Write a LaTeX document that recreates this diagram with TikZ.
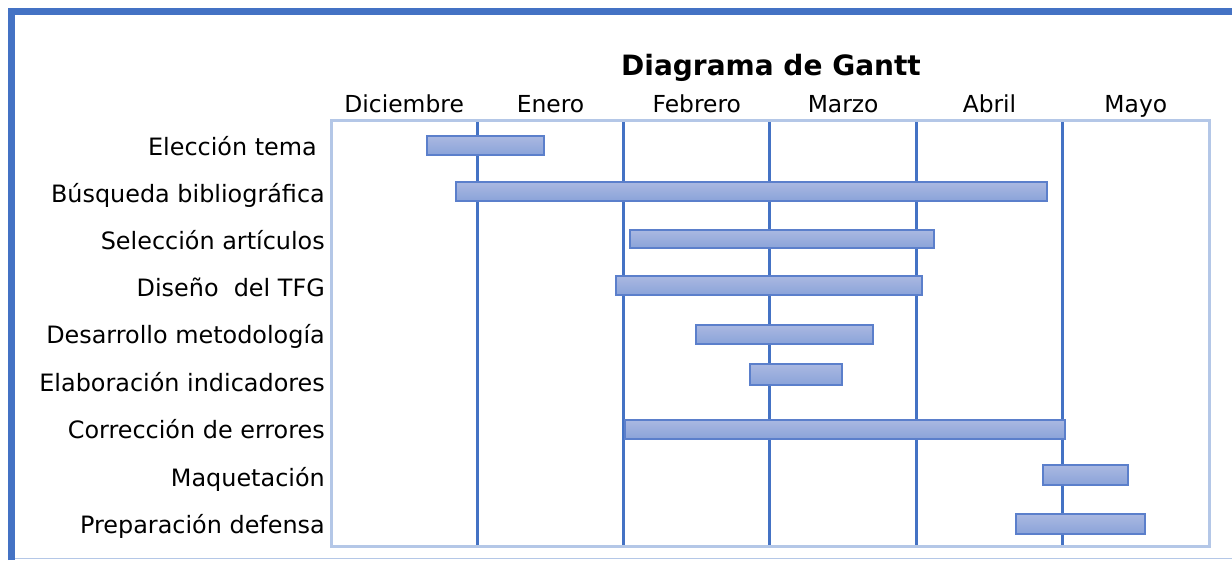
\documentclass[tikz,border=0pt]{standalone}
\usepackage{fontspec}
\setmainfont{DejaVu Sans}
\usepackage{tikz}
\definecolor{frameBlue}{RGB}{68, 114, 196}
\definecolor{boxBlue}{RGB}{180, 199, 231}
\definecolor{barEdge}{RGB}{91, 127, 203}
\definecolor{barTop}{RGB}{170, 184, 225}
\definecolor{barBottom}{RGB}{138, 163, 217}
\usetikzlibrary{positioning}

\begin{document}
\begin{tikzpicture}[
    x=1pt, y=-1pt,
    frame/.style={frameBlue, line width=7pt},
    chartbox/.style={draw=boxBlue, line width=3pt},
    gridline/.style={frameBlue, line width=3pt},
    month/.style={font=\fontsize{23.4}{26}\selectfont, anchor=base, inner sep=0pt},
    task/.style={font=\fontsize{23.9}{26}\selectfont, anchor=base east, inner sep=0pt},
    bar/.style={draw=barEdge, line width=1.2pt, top color=barTop, bottom color=barBottom}
]
    \useasboundingbox (0,0) rectangle (1232,560);
    \draw[frame] (11.5,560) -- (11.5,11.5) -- (1232,11.5);
    \draw[boxBlue, line width=1pt] (15,558.5) -- (1232,558.5);

    \node[font=\fontsize{28}{32}\selectfont\bfseries, anchor=base, inner sep=0pt] (title) at (771,75) {Diagrama de Gantt};

    % months
    \foreach \m [count=\i] in {Diciembre, Enero, Febrero, Marzo, Abril, Mayo}
        \node[month] (m\i) at ({331+146.33*(\i-0.5)},112) {\m};

    % grid
    \foreach \i in {1,...,5}
        \draw[gridline] ({331+146.33*\i},120) -- ({331+146.33*\i},546);
    \draw[chartbox] (331,120) rectangle (1209,546);

    % tasks: name / baseline / start / end / bar top / bar bottom
    \foreach \t/\ly/\a/\b/\ya/\yb [count=\i] in {
        Elección tema\hspace*{8pt}/155/427/544/136/155,
        Búsqueda bibliográfica/202/456/1047/182/201,
        Selección artículos/249/630/934/230/248,
        Diseño\ \ del TFG/296/616/922/276/295,
        Desarrollo metodología/343/696/873/325/344,
        Elaboración indicadores/391/750/842/364/385,
        Corrección de errores/438/625/1065/420/439,
        Maquetación/486/1043/1128/465/485,
        Preparación defensa/533/1016/1145/514/534}
    {
        \node[task] (t\i) at (325,\ly) {\t};
        \path[bar] (\a,\ya) rectangle (\b,\yb);
    }
\end{tikzpicture}
\end{document}
